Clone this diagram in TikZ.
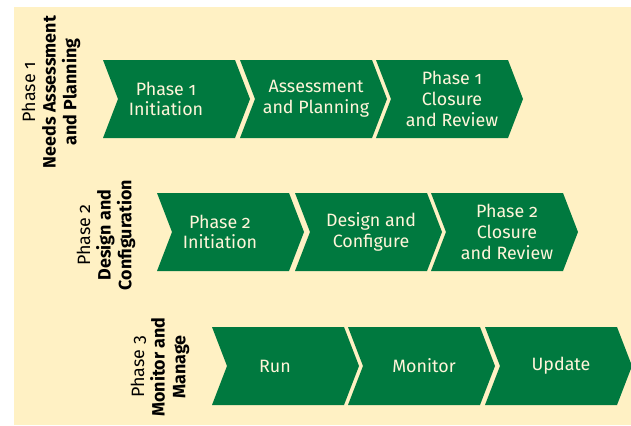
\documentclass[tikz,border=0pt]{standalone}
\usepackage{fontspec}
\setmainfont{Fira Sans}[Numbers=OldStyle]
\usetikzlibrary{positioning}

\definecolor{creambg}{HTML}{FFF1C4}
\definecolor{stepgreen}{HTML}{00793F}
\definecolor{steptext}{HTML}{FFF5DA}

\tikzset{
  chevron/.style={fill=stepgreen},
  steplabel/.style={text=steptext, align=center, inner sep=0pt,
    font=\fontsize{13.4}{15.5}\selectfont},
  phaselabel/.style={rotate=90, align=center, inner sep=0pt,
    font=\fontsize{13.4}{15.5}\selectfont},
}

% one arrow step: [text offset], name, left x, top y, text
\newcommand{\chevronstep}[5][76]{%
  \fill[chevron] (#3,#4) -- ++(132,0) -- ++(15,39) -- ++(-15,39)
    -- ++(-132,0) -- ++(15,-39) -- cycle;
  \node[steplabel] (#2) at (#3+#1,#4+39) {#5};
}

\begin{document}
\begin{tikzpicture}[x=0.75pt, y=-0.75pt]
  \useasboundingbox (0,0) rectangle (631,425);
  % background panel
  \fill[creambg] (14,7) rectangle (631,425);

  % Phase 1
  \node[phaselabel] (needs) at (51,92)
    {Phase 1\\\textbf{Needs Assessment}\\\textbf{and Planning}};
  \chevronstep[63]{init1}{103}{60}{Phase 1\\Initiation}
  \chevronstep{assess}{240}{60}{Assessment\\and Planning}
  \chevronstep{close1}{376}{60}{Phase 1\\Closure\\and Review}

  % Phase 2
  \node[phaselabel] (design) at (106,235)
    {Phase 2\\\textbf{Design and}\\\textbf{Configuration}};
  \chevronstep[63]{init2}{157}{193}{Phase 2\\Initiation}
  \chevronstep{config}{295}{193}{Design and\\Configure}
  \chevronstep{close2}{431}{193}{Phase 2\\Closure\\and Review}

  % Phase 3
  \node[phaselabel] (manage) at (160,367)
    {Phase 3\\\textbf{Monitor and}\\\textbf{Manage}};
  \chevronstep[63]{run}{212}{327}{Run}
  \chevronstep{monitor}{348}{327}{Monitor}
  \chevronstep{update}{485}{327}{Update}
\end{tikzpicture}
\end{document}
